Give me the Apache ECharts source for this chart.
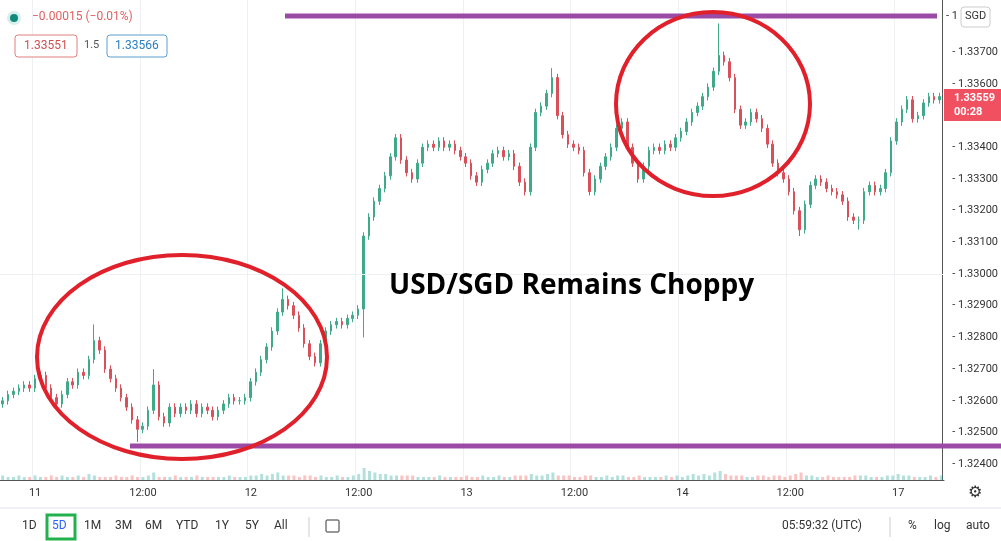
<!DOCTYPE html>
<html>
<head>
<meta charset="UTF-8">
<title>USD/SGD</title>
<style>body{margin:0;background:#fff;} #main{width:1001px;height:541px;}</style>
</head>
<body>
<div id="main"></div>
<script src="https://cdn.jsdelivr.net/npm/echarts@6/dist/echarts.min.js"></script>
<script>
// closes, in pips (0.0001) above 1.3240, one candle ~5.4px
var basePrice = 1.3240;
var pips = [
20,22,23,24,25,24,27,28,24,21, 19,22,26,25,29,28,33,39,36,30,
27,24,21,18,14,11,12,17,25,15, 13,18,16,18,17,19,16,18,17,15,
17,19,21,20,20,21,26,29,33,37, 42,48,52,50,47,43,38,34,32,38,
42,44,45,44,46,47,49,72,78,83, 87,91,97,103,96,92,90,95,100,101,
100,102,100,101,99,97,95,91,89,93, 95,98,99,97,98,94,89,86,100,111,
113,117,122,110,104,101,100,99,92,86, 90,94,97,100,106,108,100,95,90,94,
99,100,99,101,100,103,105,108,111,113, 116,119,124,129,127,122,112,107,108,111,
109,106,101,95,92,90,86,80,74,82, 88,90,89,87,86,85,83,78,77,77,
86,88,86,87,92,102,108,112,115,109, 110,114,116,115,116
];
// wick extremes that stick out: index -> [high, low]
var spikes = {17:[1.32841,null],25:[null,1.32470],28:[1.32700,null],52:[1.32955,null],67:[null,1.32800],102:[1.33650,null],133:[1.33791,null],148:[null,1.33120],159:[null,1.33140]};
var volumes = [
3,2,2,3,2,2,3,2,2,3,2,3,2,2,3,2,4,3,2,2,2,3,2,2,3,2,2,3,5,2,
2,2,3,2,2,2,3,2,2,2,2,2,3,2,2,2,3,3,4,3,4,5,3,3,3,2,3,3,2,3,
2,2,3,2,2,3,4,8,6,5,4,4,3,3,3,3,3,2,2,2,2,3,2,2,2,2,3,2,2,3,
2,2,3,2,2,3,3,3,4,3,3,4,5,3,3,3,2,2,3,3,2,2,3,2,3,3,2,2,3,2,
2,2,2,3,2,3,2,3,4,3,4,3,5,6,4,3,3,3,2,2,3,3,2,3,3,2,3,4,5,3,
3,2,2,3,2,2,2,2,3,3,3,2,2,2,3,3,4,3,3,2,2,2,3,2,3
];
var tickIdx = [6,26,46,66,86,106,126,146,166];
var tickText = ['11','12:00','12','12:00','13','12:00','14','12:00','17'];
var priceTicks = [1.324,1.325,1.326,1.327,1.328,1.329,1.330,1.331,1.332,1.333,1.334,1.335,1.336,1.337,1.338];
var lastPrice = 1.33559;

var cats = [], ohlc = [];
for (var i = 0; i < pips.length; i++) {
    cats.push(String(i));
    var c = basePrice + pips[i] / 10000;
    var o = i ? basePrice + pips[i - 1] / 10000 : c - 0.0001;
    var hi = Math.max(o, c) + 0.00012, lo = Math.min(o, c) - 0.00012;
    if (spikes[i]) { if (spikes[i][0]) hi = spikes[i][0]; if (spikes[i][1]) lo = spikes[i][1]; }
    ohlc.push([o, c, lo, hi]);
}
var volData = volumes.map(function (v, i) {
    return { value: v, itemStyle: { color: ohlc[i][1] >= ohlc[i][0] ? 'rgba(38,166,154,0.35)' : 'rgba(239,83,80,0.35)' } };
});
var gridLines = priceTicks.map(function (p) { return { yAxis: p }; });

var chart = echarts.init(document.getElementById('main'));
var T = function (x, y, s, font, fill) { return { type: 'text', left: x, top: y, style: { text: s, font: font || '12px Roboto', fill: fill || '#333' } }; };
var deco = [
    { type: 'line', shape: { x1: 285, y1: 16, x2: 937, y2: 16 }, style: { stroke: '#9b4aa6', lineWidth: 5 } },
    { type: 'line', shape: { x1: 130, y1: 446, x2: 1001, y2: 446 }, style: { stroke: '#9b4aa6', lineWidth: 5 } },
    { type: 'ellipse', shape: { cx: 182, cy: 357, rx: 145, ry: 102 }, style: { fill: null, stroke: '#e0202a', lineWidth: 4 } },
    { type: 'ellipse', shape: { cx: 713, cy: 104, rx: 97, ry: 92 }, style: { fill: null, stroke: '#e0202a', lineWidth: 4 } },
    T(389, 272, 'USD/SGD Remains Choppy', 'bold 28px "Open Sans", sans-serif', '#000'),
    { type: 'circle', shape: { cx: 14, cy: 18, r: 7 }, style: { fill: '#d7efec' } },
    { type: 'circle', shape: { cx: 14, cy: 18, r: 4 }, style: { fill: '#128a7a' } },
    T(32, 11, '\u22120.00015 (\u22120.01%)', '12px Roboto', '#e06060'),
    { type: 'rect', shape: { x: 15, y: 35, width: 62, height: 22, r: 3 }, style: { fill: '#fff', stroke: '#e08080' } },
    T(24, 40, '1.33551', '12px Roboto', '#d05050'),
    T(84, 40, '1.5', '11px Roboto', '#555'),
    { type: 'rect', shape: { x: 107, y: 35, width: 60, height: 22, r: 3 }, style: { fill: '#fff', stroke: '#5aa0d0' } },
    T(115, 40, '1.33566', '12px Roboto', '#2a7fc0'),
    T(946, 11, '- 1', '11px Roboto'),
    { type: 'rect', shape: { x: 961, y: 7, width: 29, height: 20, r: 3 }, style: { fill: '#fff', stroke: '#ccc' } },
    T(965, 11, 'SGD', '11px Roboto'),
    { type: 'rect', shape: { x: 944, y: 89, width: 57, height: 32 }, style: { fill: '#f05060' } },
    { type: 'text', left: 954, top: 91, style: { text: '1.33559\n00:28', font: 'bold 11px Roboto', fill: '#fff', lineHeight: 14 } },
    T(968, 485, '\u2699', '16px "DejaVu Sans"'),
    { type: 'line', shape: { x1: 0, y1: 508, x2: 1001, y2: 508 }, style: { stroke: '#e0e3eb', lineWidth: 1 } },
    { type: 'rect', shape: { x: 47, y: 515, width: 28, height: 24 }, style: { fill: null, stroke: '#22b14c', lineWidth: 3 } },
    T(22, 520, '1D'), T(52, 520, '5D', '12px Roboto', '#2962ff'), T(84, 520, '1M'), T(115, 520, '3M'),
    T(145, 520, '6M'), T(176, 520, 'YTD'), T(215, 520, '1Y'), T(245, 520, '5Y'), T(274, 520, 'All'),
    { type: 'line', shape: { x1: 309, y1: 517, x2: 309, y2: 537 }, style: { stroke: '#ccc' } },
    { type: 'rect', shape: { x: 326, y: 520, width: 13, height: 12, r: 1 }, style: { fill: null, stroke: '#333' } },
    T(782, 520, '05:59:32 (UTC)'),
    { type: 'line', shape: { x1: 890, y1: 517, x2: 890, y2: 537 }, style: { stroke: '#ccc' } },
    T(908, 520, '%'), T(934, 520, 'log'), T(966, 520, 'auto')
];
deco.forEach(function (g) { g.z = 100; });

chart.setOption({
    animation: false,
    grid: [
        { left: 0, right: 57, top: 0, bottom: 61 },
        { left: 0, right: 57, top: 462, bottom: 61 }
    ],
    xAxis: [
        { type: 'category', data: cats,
          axisLine: { show: false }, axisTick: { show: false }, axisLabel: { show: false },
          splitLine: { show: true, interval: function (i) { return tickIdx.indexOf(i) >= 0; }, lineStyle: { color: '#eef0f3' } } },
        { type: 'category', data: cats, gridIndex: 1,
          axisLine: { lineStyle: { color: '#555' } }, axisTick: { show: false },
          axisLabel: { interval: function (i) { return tickIdx.indexOf(i) >= 0; },
              formatter: function (v) { var k = tickIdx.indexOf(+v); return k >= 0 ? tickText[k] : ''; },
              color: '#333', fontSize: 11, fontFamily: 'Roboto' } }
    ],
    yAxis: [
        { type: 'value', position: 'right', min: 1.3235, max: 1.33865, interval: 0.0005,
          axisLine: { show: true, lineStyle: { color: '#555' } },
          axisTick: { show: false },
          axisLabel: { color: '#333', fontSize: 11, fontFamily: 'Roboto', margin: 10,
              formatter: function (v) {
                  var k = Math.round(v * 10000);
                  return (k % 10 === 0 && v < 1.3375 && k !== 13350) ? '- ' + v.toFixed(5) : '';
              } },
          splitLine: { show: false } },
        { type: 'value', gridIndex: 1, max: 12, show: false }
    ],
    series: [
        { type: 'candlestick', data: ohlc, barWidth: 2,
          itemStyle: { color: '#3fa98a', color0: '#d9505a', borderColor: '#3fa98a', borderColor0: '#d9505a', borderWidth: 1 },
          markLine: { symbol: 'none', silent: true, label: { show: false },
              lineStyle: { color: '#eef0f3', type: 'solid', width: 1 }, data: gridLines } },
        { type: 'line', data: [], markLine: { symbol: 'none', silent: true, label: { show: false },
              lineStyle: { color: '#ef5350', type: 'dotted', width: 1 }, data: [{ yAxis: lastPrice }] } },
        { type: 'bar', xAxisIndex: 1, yAxisIndex: 1, data: volData, barWidth: 3 }
    ],
    graphic: deco
});
</script>
</body>
</html>
